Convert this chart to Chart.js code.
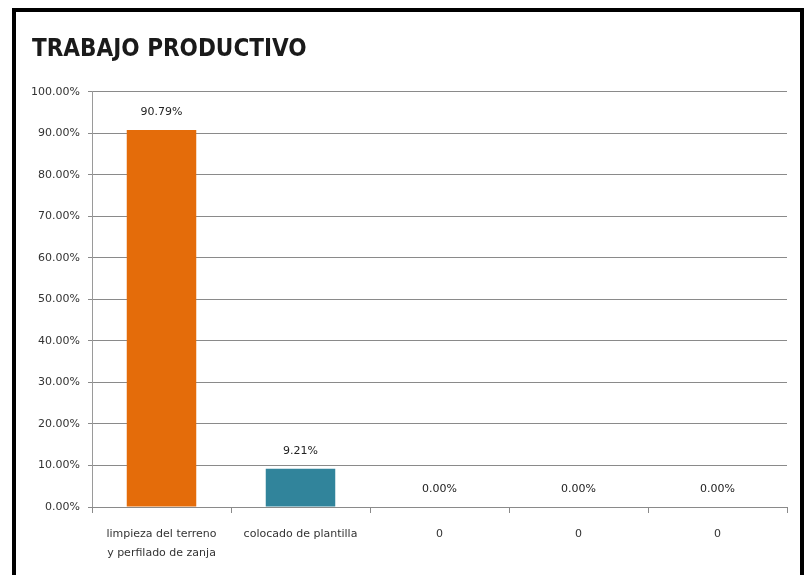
<!DOCTYPE html>
<html>
<head>
<meta charset="utf-8">
<script src="https://cdn.jsdelivr.net/npm/chart.js@4/dist/chart.umd.min.js"></script>
<style>
  html, body { margin: 0; padding: 0; background: #fff; overflow: hidden; }
  #frame {
    position: absolute; left: 12px; top: 8px;
    width: 784px; height: 600px;
    border: 4px solid #000; border-bottom: none;
    background: #fff;
  }
  #chart { display: block; }
</style>
</head>
<body>
<div id="frame"><canvas id="chart" width="784" height="563"></canvas></div>
<script>
const chartTitle = 'TRABAJO PRODUCTIVO';
const categories = [['limpieza del terreno', 'y perfilado de zanja'], 'colocado de plantilla', '0', '0', '0'];
const values = [90.79, 9.21, 0, 0, 0];
const barColors = ['#E46C0A', '#31849B', '#31849B', '#31849B', '#31849B'];

const smallFont = { family: "'DejaVu Sans', sans-serif", size: 11 };

// draws the percentage above each bar
const valueLabels = {
  id: 'valueLabels',
  afterDatasetsDraw(chart) {
    const ctx = chart.ctx;
    const meta = chart.getDatasetMeta(0);
    ctx.save();
    ctx.font = "11px 'DejaVu Sans', sans-serif";
    ctx.fillStyle = '#222';
    ctx.textAlign = 'center';
    ctx.textBaseline = 'middle';
    meta.data.forEach((bar, i) => {
      ctx.fillText(values[i].toFixed(2) + '%', bar.x, bar.y - 18);
    });
    ctx.restore();
  }
};

const ctx = document.getElementById('chart').getContext('2d');
new Chart(ctx, {
  type: 'bar',
  data: {
    labels: categories,
    datasets: [{
      data: values,
      backgroundColor: barColors,
      categoryPercentage: 1,
      barPercentage: 0.5
    }]
  },
  options: {
    responsive: false,
    animation: false,
    layout: { padding: { left: 16, right: 13, top: 0, bottom: 0 } },
    plugins: {
      legend: { display: false },
      tooltip: { enabled: false },
      title: {
        display: true,
        text: chartTitle,
        align: 'start',
        color: '#1a1a1a',
        font: { family: "'Liberation Sans Narrow', 'DejaVu Sans Condensed', sans-serif", size: 24, weight: 'bold' },
        padding: { top: 23, bottom: 28 }
      }
    },
    scales: {
      y: {
        min: 0,
        max: 100,
        ticks: {
          stepSize: 10,
          color: '#333',
          font: smallFont,
          padding: 8,
          callback: v => v.toFixed(2) + '%'
        },
        grid: { color: '#8a8a8a', tickLength: 4 },
        border: { color: '#9a9a9a' },
        afterFit(scale) { scale.width = 60; }
      },
      x: {
        ticks: { color: '#333', font: { family: "'DejaVu Sans', sans-serif", size: 11, lineHeight: 1.7 }, padding: 12, maxRotation: 0 },
        grid: { offset: true, drawOnChartArea: false, tickLength: 6, color: '#8a8a8a' },
        border: { color: '#8a8a8a' },
        afterFit(scale) { scale.height = 68; }
      }
    }
  },
  plugins: [valueLabels]
});
</script>
</body>
</html>
